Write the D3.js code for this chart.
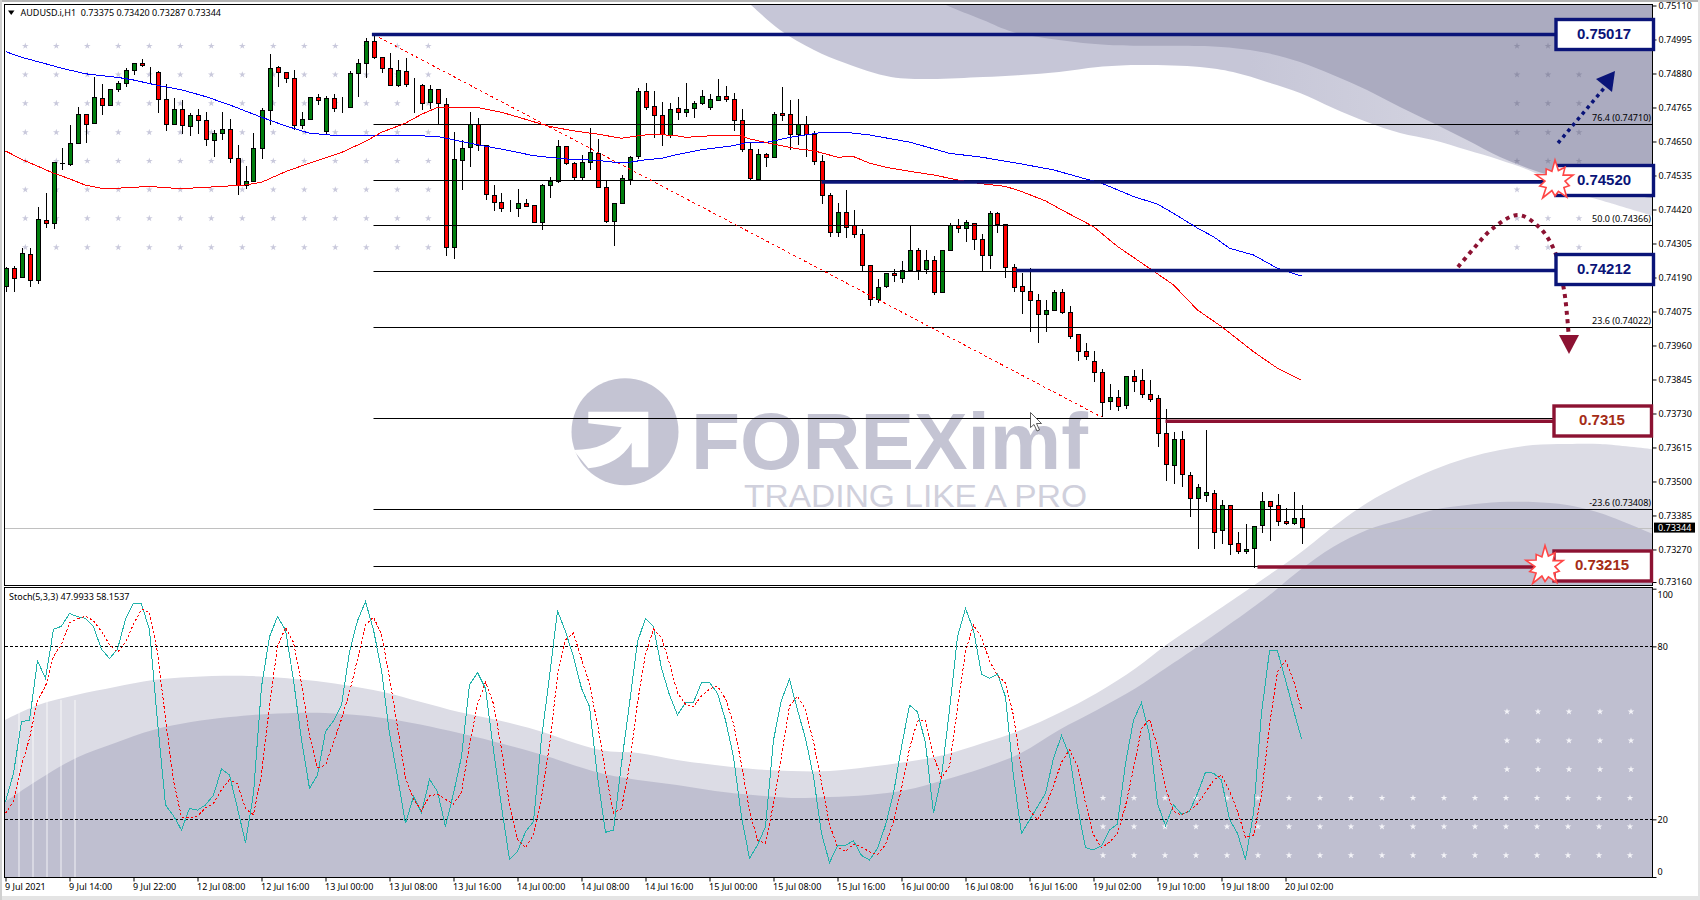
<!DOCTYPE html>
<html>
<head>
<meta charset="utf-8">
<script src="https://cdn.jsdelivr.net/npm/d3@7"></script>
<style>
html,body{margin:0;padding:0;background:#fff;}
svg{display:block;}
text{font-family:"Noto Sans",sans-serif;}
.tick text{font-family:"Noto Sans",sans-serif;font-size:9px;fill:#000;}
</style>
</head>
<body>
<svg id="chart" width="1700" height="900"></svg>
<script>
// quotes are kept in points, 74159 = 0.74159
var opens = [74159,74221,74190,74269,74181,74384,74374,74575,74571,74643,
74740,74711,74796,74772,74826,74847,74890,74915,74884,74884,
74793,74708,74759,74702,74739,74722,74653,74677,74692,74593,
74502,74516,74627,74755,74901,74884,74864,74704,74725,74800,
74684,74794,74765,74766,74881,74915,74989,74935,74898,74840,
74888,74841,74840,74782,74825,74775,74292,74586,74631,74706,
74637,74468,74445,74423,74424,74439,74434,74377,74502,74513,
74632,74577,74528,74579,74609,74495,74379,74440,74520,74599,
74820,74769,74739,74671,74763,74748,74763,74779,74766,74788,
74803,74793,74722,74624,74520,74607,74596,74746,74742,74672,
74706,74672,74582,74468,74343,74411,74365,74336,74230,74117,
74159,74204,74187,74212,74281,74216,74247,74139,74281,74365,
74357,74374,74319,74264,74407,74369,74224,74159,74142,74112,
74066,74078,74140,74073,73996,73941,73907,73870,73771,73785,
73757,73856,73840,73795,73782,73663,73554,73643,73521,73443,
73454,73460,73335,73420,73291,73263,73274,73351,73433,73420,
73366,73358,73375];
var highs = [74227,74229,74289,74289,74428,74475,74580,74627,74706,74766,
74740,74867,74845,74827,74854,74898,74915,74928,74903,74887,
74845,74796,74791,74746,74759,74750,74689,74749,74725,74639,
74568,74678,74763,74945,74906,74884,74892,74751,74800,74811,
74804,74811,74800,74890,74928,74999,75011,74937,74949,74926,
74932,74864,74845,74841,74827,74796,74681,74655,74751,74729,
74637,74503,74475,74452,74489,74455,74434,74505,74531,74655,
74635,74579,74605,74695,74658,74520,74443,74537,74601,74830,
74847,74821,74783,74779,74800,74847,74787,74825,74810,74861,
74838,74813,74759,74644,74625,74610,74749,74834,74791,74794,
74737,74687,74605,74475,74441,74486,74419,74353,74230,74184,
74204,74218,74247,74366,74289,74283,74261,74281,74374,74387,
74383,74374,74336,74415,74412,74369,74236,74204,74222,74135,
74114,74148,74151,74092,73999,73968,73942,73880,73830,73808,
73856,73877,73881,73844,73792,73746,73668,73671,73531,73492,
73675,73470,73438,73420,73328,73357,73349,73463,73433,73458,
73410,73465,73420];
var lows = [74142,74142,74190,74159,74167,74359,74354,74554,74568,74643,
74646,74708,74740,74772,74819,74836,74875,74903,74847,74748,
74687,74708,74676,74670,74676,74636,74599,74655,74577,74469,
74490,74515,74590,74706,74836,74847,74689,74692,74725,74774,
74676,74751,74746,74766,74800,74864,74928,74883,74840,74834,
74836,74748,74757,74759,74705,74263,74252,74486,74565,74619,
74452,74415,74410,74410,74393,74428,74377,74349,74459,74511,
74572,74515,74520,74554,74494,74376,74297,74440,74503,74590,
74755,74663,74635,74663,74723,74732,74728,74773,74755,74788,
74782,74684,74616,74520,74520,74565,74596,74721,74622,74639,
74599,74571,74437,74328,74328,74322,74322,74212,74092,74103,
74153,74176,74173,74212,74180,74202,74132,74139,74281,74340,
74309,74283,74212,74220,74342,74187,74141,74065,74007,73970,
74004,74075,74066,73983,73909,73911,73838,73717,73742,73737,
73746,73801,73781,73770,73615,73503,73491,73483,73379,73271,
73432,73270,73289,73253,73256,73256,73207,73327,73297,73348,
73353,73353,73287];
var closes = [74221,74187,74272,74181,74385,74374,74580,74577,74644,74740,
74707,74800,74772,74827,74845,74891,74915,74907,74884,74793,
74708,74757,74704,74739,74722,74658,74678,74692,74593,74502,
74516,74627,74755,74898,74884,74864,74704,74725,74800,74788,
74794,74763,74765,74881,74915,74989,74935,74898,74840,74891,
74843,74841,74779,74827,74779,74292,74590,74627,74706,74637,
74472,74445,74424,74423,74441,74430,74377,74502,74513,74632,
74577,74529,74579,74614,74494,74378,74441,74526,74597,74820,
74766,74738,74672,74759,74748,74759,74779,74802,74791,74803,
74792,74721,74624,74525,74607,74597,74742,74738,74673,74707,
74672,74582,74468,74343,74411,74360,74335,74230,74117,74157,
74204,74197,74213,74281,74213,74247,74139,74281,74365,74357,
74377,74319,74264,74407,74368,74224,74156,74142,74112,74066,
74078,74140,74073,73992,73939,73923,73870,73768,73785,73753,
73856,73839,73794,73777,73663,73558,73643,73522,73443,73481,
73464,73328,73420,73288,73263,73271,73349,73433,73416,73366,
73358,73376,73344];

// moving averages, read at the bends of the lines
var slowBars = [0,2,5,7,10,14,16,19,22,25,28,32,35,38,41,47,52,54,57,59,63,66,70,74,76,78,80,82,84,87,91,93,95,98,101,102,105,108,113,118,122,127,131,134,137,141,144,146,149,151,153,156,159,162];
var slowVals = [74954,74935,74913,74898,74879,74867,74858,74840,74825,74802,74774,74732,74703,74678,74671,74671,74669,74667,74650,74639,74619,74602,74591,74586,74580,74580,74588,74593,74606,74622,74636,74648,74646,74664,74676,74681,74681,74672,74648,74610,74597,74574,74554,74531,74509,74464,74438,74407,74357,74328,74289,74266,74221,74195];
var fastBars = [0,2,6,8,10,12,14,18,21,23,27,30,32,35,38,42,45,47,50,52,54,56,59,62,65,68,71,74,77,79,81,84,85,88,92,93,96,99,101,104,106,108,110,114,116,119,122,125,127,130,132,136,139,143,146,149,152,156,159,162];
var fastVals = [74618,74590,74543,74524,74502,74492,74492,74498,74492,74492,74498,74503,74512,74548,74577,74613,74650,74681,74712,74742,74765,74766,74765,74749,74725,74701,74686,74675,74661,74669,74675,74669,74664,74669,74669,74659,74641,74625,74619,74597,74599,74577,74563,74545,74537,74520,74507,74498,74481,74449,74419,74362,74295,74221,74165,74080,74024,73939,73883,73842];

var trendBars = [46,137];
var trendVals = [75012,73718];

// fibonacci retracement
var fibLevels = [75017,74710,74520,74366,74212,74022,73714,73408,73215];
var fibTexts = ["","76.4 (0.74710)","","50.0 (0.74366)","","23.6 (0.74022)","","-23.6 (0.73408)",""];

// hand drawn levels on top of the chart
var zoneVals = [75012,74513,74214,73704,73211];
var zoneBars = [45.8,102,126.3,145,156.5];
var zoneTexts = ["0.75017","0.74520","0.74212","0.7315","0.73215"];
var zoneKinds = ["up","up","up","down","down"];

var priceTicks = [75110,74995,74880,74765,74650,74535,74420,74305,74190,74075,73960,73845,73730,73615,73500,73385,73270,73160];
var lastPrice = 73344;

// stochastic 5,3,3
var stochK = [26.1,36.0,53.9,54.4,75.0,68.9,85.9,87.0,91.4,90.3,
89.7,86.8,79.0,75.8,79.0,89.4,94.9,94.7,85.7,53.9,
25.0,21.2,16.3,23.8,23.2,25.0,28.4,37.5,35.4,23.8,
11.9,29.0,66.0,83.3,90.3,85.7,68.3,47.5,30.7,35.4,
50.4,54.2,59.6,78.1,88.9,95.5,85.7,71.8,49.8,34.8,
18.6,27.9,22.4,33.9,29.6,17.5,29.0,41.7,66.6,70.9,
65.4,44.0,24.4,6.1,8.8,15.7,19.2,48.1,69.5,92.4,
85.1,76.4,65.4,59.1,34.8,15.5,16.3,39.4,60.2,81.6,
89.7,86.8,72.4,63.1,56.2,60.5,60.6,67.4,67.5,63.7,
54.4,41.7,20.9,6.5,11.1,17.5,47.5,61.4,68.6,57.9,
48.1,34.8,15.1,5.0,10.8,11.0,12.6,7.5,5.9,9.9,
18.0,29.0,45.2,59.6,57.3,46.4,22.1,34.8,57.9,83.3,
93.2,85.7,70.4,68.9,70.4,62.5,34.8,15.1,19.8,24.4,
29.0,41.2,49.0,42.3,24.4,10.2,9.4,10.8,16.3,18.4,
39.4,54.4,60.5,49.2,25.5,17.8,25.0,21.8,22.7,29.0,
36.3,36.0,33.6,20.0,15.1,6.1,22.1,56.8,78.4,78.4,
68.3,57.9,48.0];
var stochD = [22.1,26.1,38.6,48.1,61.2,66.1,76.6,80.6,88.1,89.6,
90.5,88.9,85.2,80.6,77.9,81.4,87.7,92.9,91.8,78.0,
54.8,33.3,20.8,20.5,21.2,24.0,25.5,30.3,33.8,32.3,
23.7,21.6,35.6,59.4,79.9,86.5,81.4,67.2,48.9,37.9,
38.8,46.7,54.8,64.0,75.6,87.5,90.1,84.3,69.1,52.1,
34.4,27.0,23.0,28.1,28.7,26.9,25.3,29.4,45.8,59.8,
67.6,60.1,44.6,24.9,13.1,10.2,14.6,27.6,45.5,69.9,
82.3,84.6,75.6,66.9,53.1,36.4,22.2,23.7,38.6,60.5,
77.2,86.0,83.0,74.1,63.9,59.9,59.1,62.8,65.2,66.2,
61.8,53.3,39.1,23.0,12.8,11.7,25.3,42.1,59.2,62.7,
58.1,46.9,32.7,18.3,10.3,8.9,11.4,10.4,8.7,7.7,
11.3,19.0,30.7,44.6,54.1,54.4,42.0,34.4,38.3,58.7,
78.1,87.4,83.1,75.0,69.9,67.3,56.0,37.5,23.2,19.8,
24.4,31.6,39.8,44.2,38.6,25.7,14.7,10.1,12.1,15.1,
24.7,37.5,51.4,54.7,45.1,30.9,22.8,21.5,23.1,25.3,
29.4,33.6,35.3,29.8,22.9,13.8,14.5,28.3,52.5,71.2,
75.0,68.2,58.2];
var stochLevels = [80,20];
var stochTicks = [100,80,20,0];

var timeBars = [0,8,16,24,32,40,48,56,64,72,80,88,96,104,112,120,128,136,144,152,160];
var timeLabels = ["9 Jul 2021","9 Jul 14:00","9 Jul 22:00","12 Jul 08:00","12 Jul 16:00","13 Jul 00:00","13 Jul 08:00","13 Jul 16:00","14 Jul 00:00","14 Jul 08:00","14 Jul 16:00","15 Jul 00:00","15 Jul 08:00","15 Jul 16:00","16 Jul 00:00","16 Jul 08:00","16 Jul 16:00","19 Jul 02:00","19 Jul 10:00","19 Jul 18:00","20 Jul 02:00"];

// layout
var LEFT = 4.5, RIGHT = 1652.5;
var MAIN_TOP = 4.5, MAIN_BOTTOM = 585.5;
var SUB_TOP = 587.5, SUB_BOTTOM = 877.5;

var svg = d3.select('#chart');
var x = d3.scaleLinear().domain([0,162]).range([5.5,1301.5]);
var y = d3.scaleLinear().domain([75110,73160]).range([5.5,582]);
var ys = d3.scaleLinear().domain([0,100]).range([877,588.7]);

function fmtPrice(p){
    return (p/100000).toFixed(5);
}

var defs = svg.append('defs');
defs.append('clipPath').attr('id','clipMain').append('rect')
    .attr('x',LEFT).attr('y',MAIN_TOP).attr('width',RIGHT-LEFT).attr('height',MAIN_BOTTOM-MAIN_TOP);
defs.append('clipPath').attr('id','clipSub').append('rect')
    .attr('x',LEFT).attr('y',SUB_TOP).attr('width',RIGHT-LEFT).attr('height',SUB_BOTTOM-SUB_TOP);
var grad = defs.append('linearGradient').attr('id','topBand').attr('gradientUnits','userSpaceOnUse')
    .attr('x1',1250).attr('x2',1600).attr('y1',0).attr('y2',0);
grad.append('stop').attr('offset',0).attr('stop-color','#c6c6d7');
grad.append('stop').attr('offset',1).attr('stop-color','#dcdce6');

// outer window edge
svg.append('rect').attr('x',0).attr('y',0).attr('width',1700).attr('height',900).attr('fill','#fff');
svg.append('rect').attr('x',0).attr('y',0).attr('width',1700).attr('height',2).attr('fill','#b4b4b4');
svg.append('rect').attr('x',0).attr('y',896).attr('width',1700).attr('height',4).attr('fill','#e4e4e4');
svg.append('rect').attr('x',0).attr('y',0).attr('width',2).attr('height',900).attr('fill','#d0d0d0');
svg.append('rect').attr('x',1698).attr('y',0).attr('width',2).attr('height',900).attr('fill','#e4e4e4');

// ---- watermark background, these are picture shapes and not data
var curve = d3.line().curve(d3.curveCatmullRom.alpha(0.5));
var bg = svg.append('g');
var bgMain = bg.append('g').attr('clip-path','url(#clipMain)');
var bgSub = bg.append('g').attr('clip-path','url(#clipSub)');

var topLight = [[740,-5],[751,5],[780,30],[814,50],[845,63],[891,77],[929,79],[983,77],[1021,75],[1059,72],[1098,67],[1136,65],[1200,67],[1233,72],[1267,82],[1300,93],[1333,108],[1367,122],[1400,133],[1433,140],[1467,150],[1500,160],[1533,172],[1567,190],[1600,200],[1660,218]];
var topDark = [[930,-3],[946,5],[983,20],[1013,32],[1059,40],[1109,45],[1200,46],[1233,48],[1267,53],[1300,62],[1333,75],[1367,90],[1400,107],[1433,123],[1467,140],[1500,157],[1533,170],[1555,177],[1600,190],[1660,199]];
bgMain.append('path').attr('d',curve(topLight)+'L1660,-5Z').attr('fill','url(#topBand)');
bgMain.append('path').attr('d',curve(topDark)+'L1660,-5Z').attr('fill','#ababc0');

var lowLight = [[5,720],[38,705],[76,695],[115,687],[153,680],[191,677],[249,676],[306,680],[344,685],[383,692],[421,702],[459,712],[497,720],[536,730],[600,750],[638,753],[677,760],[715,765],[753,769],[791,771],[830,771],[868,767],[906,762],[944,755],[983,743],[1021,730],[1059,713],[1097,693],[1136,668],[1166,645],[1200,622],[1237,597],[1300,553],[1333,527],[1367,503],[1400,485],[1433,470],[1467,458],[1500,450],[1533,445],[1567,444],[1600,444],[1660,450]];
var lowDark = [[5,802],[38,780],[76,758],[115,743],[153,730],[191,722],[230,717],[268,714],[325,713],[383,718],[459,733],[536,753],[600,773],[638,780],[677,785],[715,791],[753,795],[791,798],[830,797],[868,795],[906,790],[944,780],[983,768],[1021,753],[1059,730],[1097,710],[1136,688],[1166,668],[1200,645],[1267,597],[1300,570],[1333,547],[1367,530],[1400,520],[1433,510],[1467,505],[1500,502],[1533,502],[1567,505],[1600,513],[1660,537]];
[bgMain,bgSub].forEach(function(g){
    g.append('path').attr('d',curve(lowLight)+'L1660,880L5,880Z').attr('fill','#dcdce5');
    g.append('path').attr('d',curve(lowDark)+'L1660,880L5,880Z').attr('fill','#bfbfd0');
});
// pale vertical streaks low on the left
[19,33,47,61,75].forEach(function(sx){
    bgSub.append('rect').attr('x',sx-1).attr('y',700).attr('width',2).attr('height',177)
        .attr('fill','#fff').attr('opacity',0.4);
});

// star dots of the watermark
var star = d3.symbol().type(d3.symbolStar).size(14);
function starGrid(parent,xs,ys2,color){
    ys2.forEach(function(sy){
        xs.forEach(function(sx){
            parent.append('path').attr('d',star()).attr('transform','translate('+sx+','+sy+')').attr('fill',color);
        });
    });
}
var starRows = [46,74.7,103.3,132.3,161,189.7,218.3,247.3];
starGrid(bgMain,d3.range(0,14).map(function(i){return 25.3+31*i;}),starRows,'#c9c9dc');
starGrid(bgMain,[1517,1548],[46],'#9090a8');
starGrid(bgMain,[1517,1548,1579],[74.7,103.3,132.3,161],'#9090a8');
starGrid(bgMain,[1517,1548,1579],[189.7,218.3,247.3],'#c9c9dc');
var colsLow = d3.range(0,18).map(function(i){return 1103+31*i;});
starGrid(bgSub,colsLow,[798,826.7,855.3],'#f4f4f8');
starGrid(bgSub,[1507,1538,1569,1600,1631],[711.7,740.7,769.3],'#f4f4f8');

// logo
var logo = bg.append('g').attr('clip-path','url(#clipMain)');
logo.append('circle').attr('cx',625).attr('cy',431.7).attr('r',53.5).attr('fill','#c4c4d3');
logo.append('path').attr('fill','#fff')
    .attr('d','M588.3,411.7L648.3,411.7L648.3,467.3L631.7,467.3L631.7,442.7Q618.3,465 588.3,468.3L573.3,450Q610,450 621.7,427.3L588.3,423.3Z');
logo.append('text').attr('x',691).attr('y',468.5).text('FOREXimf')
    .attr('font-size',80).attr('font-weight','bold').attr('fill','#c4c4d3')
    .attr('textLength',397).attr('lengthAdjust','spacingAndGlyphs')
    .style('font-family','"Liberation Sans",sans-serif');
logo.append('text').attr('x',744).attr('y',506.7).text('TRADING LIKE A PRO')
    .attr('font-size',31.5).attr('fill','#d0d0dc')
    .attr('textLength',343).attr('lengthAdjust','spacingAndGlyphs')
    .style('font-family','"Liberation Sans",sans-serif');

// ---- main panel
var main = svg.append('g').attr('clip-path','url(#clipMain)');

// bid line
main.append('line').attr('x1',LEFT).attr('x2',RIGHT).attr('y1',Math.round(y(lastPrice))+0.5).attr('y2',Math.round(y(lastPrice))+0.5)
    .attr('stroke','#c0c0c0').attr('stroke-width',1);

// candles
var bars = d3.range(opens.length);
var candle = main.append('g').attr('shape-rendering','crispEdges').selectAll('g').data(bars).enter().append('g');
candle.append('line')
    .attr('x1',function(i){return Math.round(x(i))+0.5;})
    .attr('x2',function(i){return Math.round(x(i))+0.5;})
    .attr('y1',function(i){return y(highs[i]);})
    .attr('y2',function(i){return y(lows[i]);})
    .attr('stroke','#000').attr('stroke-width',1);
candle.append('rect')
    .attr('x',function(i){return Math.round(x(i))-1.5;})
    .attr('width',4)
    .attr('y',function(i){return y(Math.max(opens[i],closes[i]));})
    .attr('height',function(i){return Math.abs(y(opens[i])-y(closes[i]));})
    .attr('fill',function(i){return closes[i]>=opens[i] ? '#007f0e' : '#ff0000';})
    .attr('stroke','#000').attr('stroke-width',1);

// fibo lines
main.append('g').selectAll('line').data(fibLevels).enter().append('line')
    .attr('x1',x(46)).attr('x2',RIGHT)
    .attr('y1',function(d){return Math.round(y(d))+0.5;})
    .attr('y2',function(d){return Math.round(y(d))+0.5;})
    .attr('stroke','#000').attr('stroke-width',1);
main.append('g').selectAll('text').data(fibLevels).enter().append('text')
    .attr('x',1651).attr('y',function(d){return y(d)-3;})
    .attr('text-anchor','end').attr('font-size',9).attr('fill','#000')
    .text(function(d,i){return fibTexts[i];});

// moving averages
var lineBars = d3.line()
    .x(function(d){return x(d[0]);})
    .y(function(d){return y(d[1]);});
var maLines = main.append('g').attr('shape-rendering','crispEdges');
maLines.append('path').attr('d',lineBars(d3.zip(slowBars,slowVals)))
    .attr('fill','none').attr('stroke','#0000ff').attr('stroke-width',1);
maLines.append('path').attr('d',lineBars(d3.zip(fastBars,fastVals)))
    .attr('fill','none').attr('stroke','#ff0000').attr('stroke-width',1);
maLines.append('path').attr('d',lineBars(d3.zip(trendBars,trendVals)))
    .attr('fill','none').attr('stroke','#ff0000').attr('stroke-width',1).attr('stroke-dasharray','3,3');

// ---- stochastic panel
var sub = svg.append('g').attr('clip-path','url(#clipSub)').attr('shape-rendering','crispEdges');
sub.append('g').selectAll('line').data(stochLevels).enter().append('line')
    .attr('x1',LEFT).attr('x2',RIGHT)
    .attr('y1',function(d){return Math.round(ys(d))+0.5;}).attr('y2',function(d){return Math.round(ys(d))+0.5;})
    .attr('stroke','#000').attr('stroke-width',1).attr('stroke-dasharray','3,2');
var lineK = d3.line().x(function(d,i){return x(i);}).y(function(d){return ys(d);});
sub.append('path').attr('d',lineK(stochK)).attr('fill','none').attr('stroke','#20b2aa').attr('stroke-width',1);
sub.append('path').attr('d',lineK(stochD)).attr('fill','none').attr('stroke','#ff0000').attr('stroke-width',1).attr('stroke-dasharray','2.5,2');

// ---- frames
svg.append('rect').attr('x',LEFT).attr('y',MAIN_TOP).attr('width',RIGHT-LEFT).attr('height',MAIN_BOTTOM-MAIN_TOP)
    .attr('fill','none').attr('stroke','#000');
svg.append('rect').attr('x',LEFT).attr('y',SUB_TOP).attr('width',RIGHT-LEFT).attr('height',SUB_BOTTOM-SUB_TOP)
    .attr('fill','none').attr('stroke','#000');

// ---- axes
var priceAxis = d3.axisRight(y).tickValues(priceTicks).tickFormat(fmtPrice).tickSize(4).tickPadding(2);
svg.append('g').attr('transform','translate('+RIGHT+',0)').call(priceAxis)
    .call(function(g){g.select('.domain').remove();});
var stochAxis = d3.axisRight(ys).tickValues(stochTicks).tickSize(4).tickPadding(1);
svg.append('g').attr('transform','translate('+RIGHT+',0)').call(stochAxis)
    .call(function(g){
        g.select('.domain').remove();
        // MT4 pushes the end labels inside the panel
        g.selectAll('.tick text').attr('dy',function(d){
            return d===100 ? '9px' : d===0 ? '-3px' : '0.32em';
        });
    });
var timeAxis = d3.axisBottom(x).tickValues(timeBars).tickFormat(function(d,i){return timeLabels[i];}).tickSize(4).tickPadding(2);
svg.append('g').attr('transform','translate(0,'+SUB_BOTTOM+')').call(timeAxis)
    .call(function(g){
        g.select('.domain').remove();
        g.selectAll('.tick text').attr('text-anchor','start').attr('x',-1);
    });

// current price tag
var tag = svg.append('g');
tag.append('rect').attr('x',1654).attr('y',y(lastPrice)-5).attr('width',41).attr('height',10).attr('fill','#000');
tag.append('text').attr('x',1658).attr('y',y(lastPrice)+3.2).attr('font-size',9).attr('fill','#fff').text(fmtPrice(lastPrice));

// ---- headers
svg.append('path').attr('d',d3.line()([[8,10.5],[14.5,10.5],[11.2,15]])+'Z').attr('fill','#000');
svg.append('text').attr('x',20.5).attr('y',15.5).attr('font-size',9).attr('fill','#000')
    .style('white-space','pre')
    .text('AUDUSD.i,H1  0.73375 0.73420 0.73287 0.73344');
svg.append('text').attr('x',9).attr('y',599.5).attr('font-size',9).attr('fill','#000')
    .text('Stoch(5,3,3) 47.9933 58.1537');

// ---- hand drawn levels, boxes and arrows
var NAVY = '#0a1478', MAROON = '#8c1232';
var notes = svg.append('g');
notes.selectAll('line').data(zoneVals).enter().append('line')
    .attr('x1',function(d,i){return x(zoneBars[i]);})
    .attr('x2',1556)
    .attr('y1',function(d){return y(d);}).attr('y2',function(d){return y(d);})
    .attr('stroke',function(d,i){return zoneKinds[i]==='up' ? NAVY : MAROON;})
    .attr('stroke-width',3.5);

// arrows
notes.append('path').attr('d',d3.line()([[1558,143],[1605,87]]))
    .attr('fill','none').attr('stroke',NAVY).attr('stroke-width',3.5).attr('stroke-dasharray','3.5,4');
notes.append('path').attr('d',d3.line()([[1615,71],[1596,79],[1612,92]])+'Z').attr('fill',NAVY);
notes.append('path').attr('d',curve([[1458,267],[1475,247],[1492,229],[1518,215],[1540,228],[1555,252],[1564,290],[1567,315],[1568.5,333]]))
    .attr('fill','none').attr('stroke',MAROON).attr('stroke-width',4).attr('stroke-dasharray','4,4.5');
notes.append('path').attr('d',d3.line()([[1559,335],[1579,335],[1569,354]])+'Z').attr('fill',MAROON);

// label boxes
var boxTops = [19.5,165.5,254.5,406,551];
var boxLefts = [1556,1556,1556,1554,1554];
var box = notes.selectAll('g.box').data(zoneTexts).enter().append('g').attr('class','box');
box.append('rect')
    .attr('x',function(d,i){return boxLefts[i];})
    .attr('y',function(d,i){return boxTops[i];})
    .attr('width',97.5).attr('height',30)
    .attr('fill','#fff')
    .attr('stroke',function(d,i){return zoneKinds[i]==='up' ? NAVY : MAROON;})
    .attr('stroke-width',3.4);
box.append('text')
    .attr('x',function(d,i){return boxLefts[i]+48;})
    .attr('y',function(d,i){return boxTops[i]+19;})
    .attr('text-anchor','middle').attr('font-size',15).attr('font-weight','bold')
    .attr('fill',function(d,i){return zoneKinds[i]==='up' ? NAVY : '#a42c16';})
    .style('font-family','"Liberation Sans",sans-serif')
    .text(function(d){return d;});

// burst stars
var burstR = [21,11,17,10,19,10,15,11,20,11,15,10,21,11,16,10,20,11,15,10];
var burst = d3.lineRadial()
    .angle(function(d,i){return i/burstR.length*2*Math.PI;})
    .radius(function(d){return d;});
[[1555,181],[1545,566.5]].forEach(function(c){
    notes.append('path').attr('d',burst(burstR)+'Z')
        .attr('transform','translate('+c[0]+','+c[1]+')')
        .attr('fill','#fff').attr('stroke','#ff4646').attr('stroke-width',1.6);
});

// mouse pointer left in the screenshot
notes.append('path').attr('d','M1030.5,412.5v15l3.5,-3l3,6.5l2.5,-1l-3,-6.5h5Z')
    .attr('fill','#fff').attr('stroke','#333').attr('stroke-width',0.8);
</script>
</body>
</html>
